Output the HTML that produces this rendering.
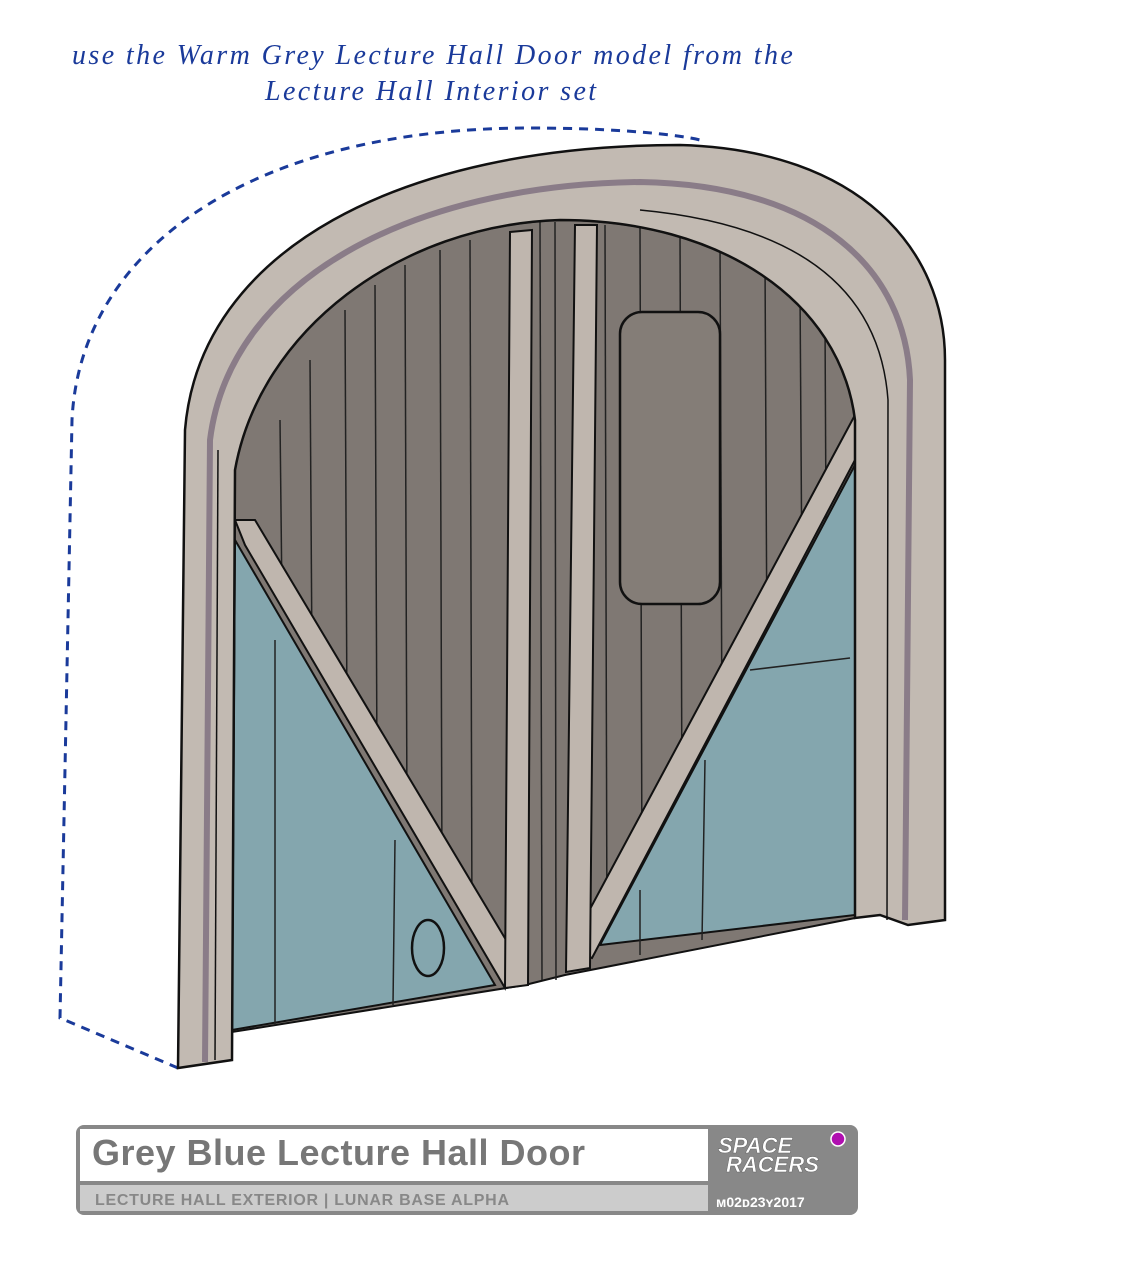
<!DOCTYPE html>
<html><head><meta charset="utf-8"><style>
html,body{margin:0;padding:0;background:#fff;}
body{width:1131px;height:1267px;position:relative;overflow:hidden;font-family:"Liberation Sans",sans-serif;}
.hand{position:absolute;color:#1a3a9a;font-family:"Liberation Serif",serif;font-style:italic;font-size:28px;letter-spacing:2.4px;}
</style></head><body>
<div class="hand" style="left:72px;top:40px;">use the Warm Grey Lecture Hall Door model from the</div>
<div class="hand" style="left:265px;top:76px;">Lecture Hall Interior set</div>
<svg width="1131" height="1267" style="position:absolute;left:0;top:0">
<path d="M178,1068 L60,1018 L72,420 C80,250 250,128 530,128 C620,128 680,135 700,140" fill="none" stroke="#1a3a9a" stroke-width="3" stroke-dasharray="9,7"/>
<path d="M232,1032 L235,470 C260,330 400,225 560,220 C720,220 840,300 855,420 L855,918 L565,975 L525,985 Z" fill="#7f7873" stroke="#111" stroke-width="2"/>
<g stroke="#222" stroke-width="1.5">
<line x1="280" y1="420" x2="282" y2="600"/><line x1="310" y1="360" x2="312" y2="660"/><line x1="345" y1="310" x2="347" y2="720"/><line x1="375" y1="285" x2="377" y2="770"/><line x1="405" y1="265" x2="407" y2="820"/><line x1="440" y1="250" x2="442" y2="880"/><line x1="470" y1="240" x2="472" y2="930"/>
<line x1="540" y1="222" x2="542" y2="980"/><line x1="555" y1="222" x2="556" y2="980"/>
<line x1="605" y1="225" x2="607" y2="940"/><line x1="640" y1="228" x2="642" y2="880"/><line x1="680" y1="232" x2="682" y2="810"/><line x1="720" y1="240" x2="722" y2="740"/><line x1="765" y1="260" x2="767" y2="660"/><line x1="800" y1="290" x2="802" y2="590"/><line x1="825" y1="320" x2="826" y2="520"/>
</g>
<path d="M235,540 L495,985 L232,1030 Z" fill="#84a6ae" stroke="#111" stroke-width="2"/>
<path d="M855,465 L600,945 L855,915 Z" fill="#84a6ae" stroke="#111" stroke-width="2"/>
<g stroke="#222" stroke-width="1.5"><line x1="275" y1="640" x2="275" y2="1025"/><line x1="395" y1="840" x2="393" y2="1005"/><line x1="705" y1="760" x2="702" y2="940"/><line x1="750" y1="670" x2="850" y2="658"/><line x1="640" y1="890" x2="640" y2="955"/></g>
<path d="M235,520 L245,545 L505,988 L512,950 L255,520 Z" fill="#bfb6ae" stroke="#111" stroke-width="2"/>
<path d="M855,415 L855,460 L592,958 L568,950 Z" fill="#bfb6ae" stroke="#111" stroke-width="2"/>
<path d="M510,232 L532,230 L528,985 L505,988 Z" fill="#bfb6ae" stroke="#111" stroke-width="2"/>
<path d="M575,225 L597,225 L590,968 L566,972 Z" fill="#bfb6ae" stroke="#111" stroke-width="2"/>
<rect x="620" y="312" width="100" height="292" rx="22" fill="#847d77" stroke="#111" stroke-width="2.5"/>
<ellipse cx="428" cy="948" rx="16" ry="28" fill="#84a6ae" stroke="#111" stroke-width="2.5"/>
<path d="M178,1068 L185,430 C200,250 400,145 680,145 C860,150 945,250 945,360 L945,920 L908,925 L880,915 L855,918 L855,420 C840,300 720,220 560,220 C400,225 260,330 235,470 L232,1060 Z" fill="#c2bab2" stroke="#111" stroke-width="2.5"/>
<path d="M205,1062 L210,440 C230,280 410,185 640,182 C820,185 905,270 910,380 L905,920" fill="none" stroke="#8a7c88" stroke-width="6"/>
<path d="M215,1060 L218,450" fill="none" stroke="#111" stroke-width="1.5"/>
<path d="M887,920 L888,400 C880,290 800,225 640,210" fill="none" stroke="#111" stroke-width="1.5"/>
<rect x="76" y="1125" width="782" height="90" rx="8" fill="#888"/>
<rect x="80" y="1129" width="628" height="52" fill="#fff"/>
<rect x="80" y="1185" width="628" height="26" fill="#ccc"/>
<circle cx="838" cy="1139" r="7" fill="#b00fb0" stroke="#fff" stroke-width="1.5"/>
<text x="92" y="1165" font-family="Liberation Sans" font-weight="bold" font-size="36" fill="#777" textLength="493">Grey Blue Lecture Hall Door</text>
<text x="95" y="1205" font-family="Liberation Sans" font-weight="bold" font-size="16" fill="#888" textLength="414">LECTURE HALL EXTERIOR | LUNAR BASE ALPHA</text>
<text x="718" y="1153" font-family="Liberation Sans" font-style="italic" font-weight="bold" font-size="22" fill="#fff" stroke="#666" stroke-width="0.5">SPACE</text>
<text x="726" y="1172" font-family="Liberation Sans" font-style="italic" font-weight="bold" font-size="22" fill="#fff" stroke="#666" stroke-width="0.5">RACERS</text>
<text x="716" y="1207" font-family="Liberation Sans" font-weight="bold" font-size="14" fill="#fff">ᴍ02ᴅ23ʏ2017</text>
</svg>
</body></html>
